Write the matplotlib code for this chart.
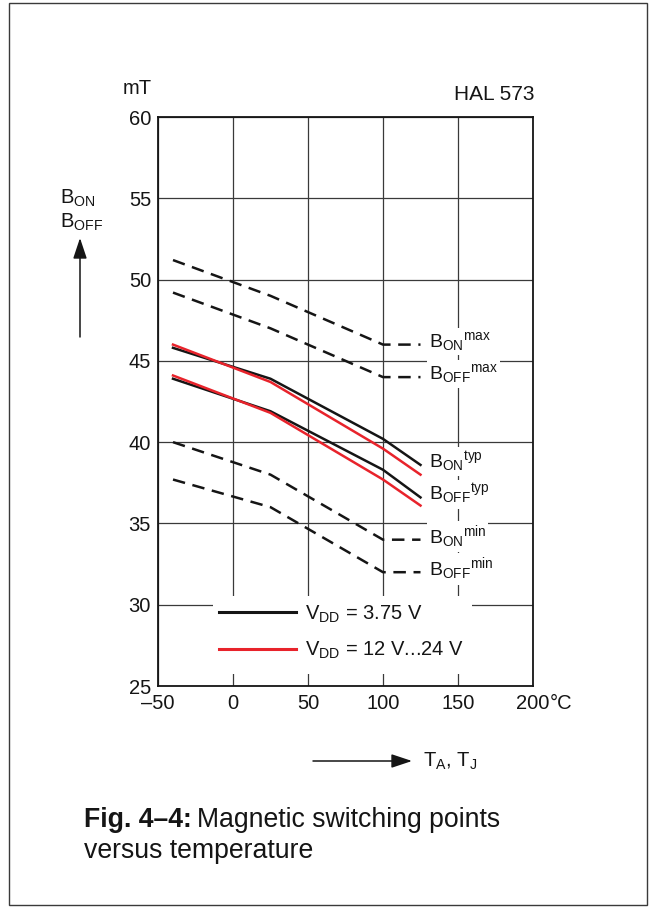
import matplotlib

matplotlib.use("Agg")
import matplotlib.pyplot as plt
from matplotlib.lines import Line2D
from matplotlib.patches import Rectangle, FancyArrowPatch

# temperature grid of the curves (deg C)
temps = [-40, 25, 100, 125]

# limits (dashed)
bon_max = [51.2, 49.0, 46.0, 46.0]
boff_max = [49.2, 47.0, 44.0, 44.0]
bon_min = [40.0, 38.0, 34.0, 34.0]
boff_min = [37.7, 36.0, 32.0, 32.0]

# typical values, VDD = 3.75 V (black) and 12 V...24 V (red)
bon_typ_lo = [45.8, 43.9, 40.2, 38.6]
boff_typ_lo = [43.9, 41.9, 38.3, 36.6]
bon_typ_hi = [46.0, 43.7, 39.6, 38.0]
boff_typ_hi = [44.1, 41.8, 37.7, 36.1]

xticks = [-50, 0, 50, 100, 150, 200]
xtick_labels = ["\u201350", "0", "50", "100", "150", "200"]
yticks = [25, 30, 35, 40, 45, 50, 55, 60]

curve_labels = [
    ("B$_{ON}$$^{max}$", bon_max),
    ("B$_{OFF}$$^{max}$", boff_max),
    ("B$_{ON}$$^{typ}$", bon_typ_lo),
    ("B$_{OFF}$$^{typ}$", boff_typ_lo),
    ("B$_{ON}$$^{min}$", bon_min),
    ("B$_{OFF}$$^{min}$", boff_min),
]

legend_labels = ["V$_{DD}$ = 3.75 V", "V$_{DD}$ = 12 V...24 V"]

plt.rcParams.update(
    {
        "font.family": ["Liberation Sans", "DejaVu Sans"],
        "mathtext.fontset": "custom",
        "mathtext.rm": "Liberation Sans",
        "mathtext.it": "Liberation Sans",
        "mathtext.bf": "Liberation Sans:bold",
        "mathtext.default": "regular",
        "lines.scale_dashes": False,
    }
)

W, H = 652, 907
BLACK = "#151515"
RED = "#e8232b"


def fpx(x, y):
    # figure pixel (from top-left) -> figure fraction
    return x / W, 1 - y / H


fig = plt.figure(figsize=(W / 100, H / 100), dpi=100)
ax = fig.add_axes([158 / W, 1 - 686 / H, 375 / W, 569 / H])

ax.set_xlim(-50, 200)
ax.set_ylim(25, 60)
ax.set_axisbelow(True)
ax.grid(True, color="#3a3a3a", linewidth=0.9)
for sp in ax.spines.values():
    sp.set_color(BLACK)
    sp.set_linewidth(1.3)

ax.set_xticks(xticks)
ax.set_xticklabels(xtick_labels)
ax.set_yticks(yticks)
ax.tick_params(length=0, labelsize=14.5, colors=BLACK)
ax.tick_params(axis="x", pad=6)
ax.tick_params(axis="y", pad=5)

dash = (9, 5.5)
for series in (bon_max, boff_max, bon_min, boff_min):
    ax.plot(temps, series, color=BLACK, linewidth=1.8, dashes=dash, zorder=2)

ax.plot(temps, bon_typ_lo, color=BLACK, linewidth=1.8, zorder=2)
ax.plot(temps, boff_typ_lo, color=BLACK, linewidth=1.8, zorder=2)
ax.plot(temps, bon_typ_hi, color=RED, linewidth=1.8, zorder=2.1)
ax.plot(temps, boff_typ_hi, color=RED, linewidth=1.8, zorder=2.1)

for text, series in curve_labels:
    ax.text(
        temps[-1] + 5.5, series[-1] + 0.2, text,
        fontsize=14, color=BLACK, ha="left", va="center",
        bbox=dict(facecolor="white", edgecolor="none", pad=1.5), zorder=3,
    )

# white patch behind the legend (hides the grid there)
ax.add_patch(Rectangle((0.147, 0.021), 0.69, 0.137, transform=ax.transAxes,
                       facecolor="white", edgecolor="none", zorder=1))
handles = [Line2D([], [], color=BLACK, linewidth=2.2),
           Line2D([], [], color=RED, linewidth=2.2)]
ax.legend(handles, legend_labels, loc="upper left", bbox_to_anchor=(0.163, 0.145),
          frameon=False, fontsize=14.5, handlelength=3.8, handletextpad=0.45,
          borderpad=0, borderaxespad=0, labelspacing=0.75, labelcolor=BLACK)

# unit and axis texts
fig.text(*fpx(152, 94), "mT", fontsize=14.5, ha="right", va="baseline", color=BLACK)
fig.text(*fpx(535, 100), "HAL 573", fontsize=15, ha="right", va="baseline", color=BLACK)
fig.text(*fpx(550, 694), "\u00b0C", fontsize=14.5, ha="left", va="top", color=BLACK)
fig.text(*fpx(60, 198), "B$_{ON}$", fontsize=14.5, ha="left", va="center", color=BLACK)
fig.text(*fpx(60, 222), "B$_{OFF}$", fontsize=14.5, ha="left", va="center", color=BLACK)

arrow = dict(arrowstyle="-|>,head_length=0.9,head_width=0.3", color=BLACK,
             linewidth=1.1, mutation_scale=14, shrinkA=0, shrinkB=0)
fig.add_artist(FancyArrowPatch(fpx(80, 337), fpx(80, 238), transform=fig.transFigure, **arrow))
fig.add_artist(FancyArrowPatch(fpx(313, 761), fpx(412, 761), transform=fig.transFigure, **arrow))
fig.text(*fpx(423, 761), "T$_{A}$, T$_{J}$", fontsize=14.5, ha="left", va="center", color=BLACK)

# caption
cap_size = 19.2
cap1 = fig.text(*fpx(84, 827), "Fig. 4\u20134:", fontsize=cap_size, fontweight="bold",
                ha="left", va="baseline", color=BLACK)
renderer = fig.canvas.get_renderer()
bb = cap1.get_window_extent(renderer)
fig.text((bb.x1 + 5) / W, 1 - 827 / H, "Magnetic switching points", fontsize=cap_size,
         ha="left", va="baseline", color=BLACK)
fig.text(*fpx(84, 858), "versus temperature", fontsize=cap_size, ha="left",
         va="baseline", color=BLACK)

# outer frame
fig.add_artist(Rectangle(fpx(9, 905), 638 / W, 902 / H, transform=fig.transFigure,
                         facecolor="none", edgecolor="#3a3a3a", linewidth=1.0))

fig.savefig("out.png", dpi=100)
